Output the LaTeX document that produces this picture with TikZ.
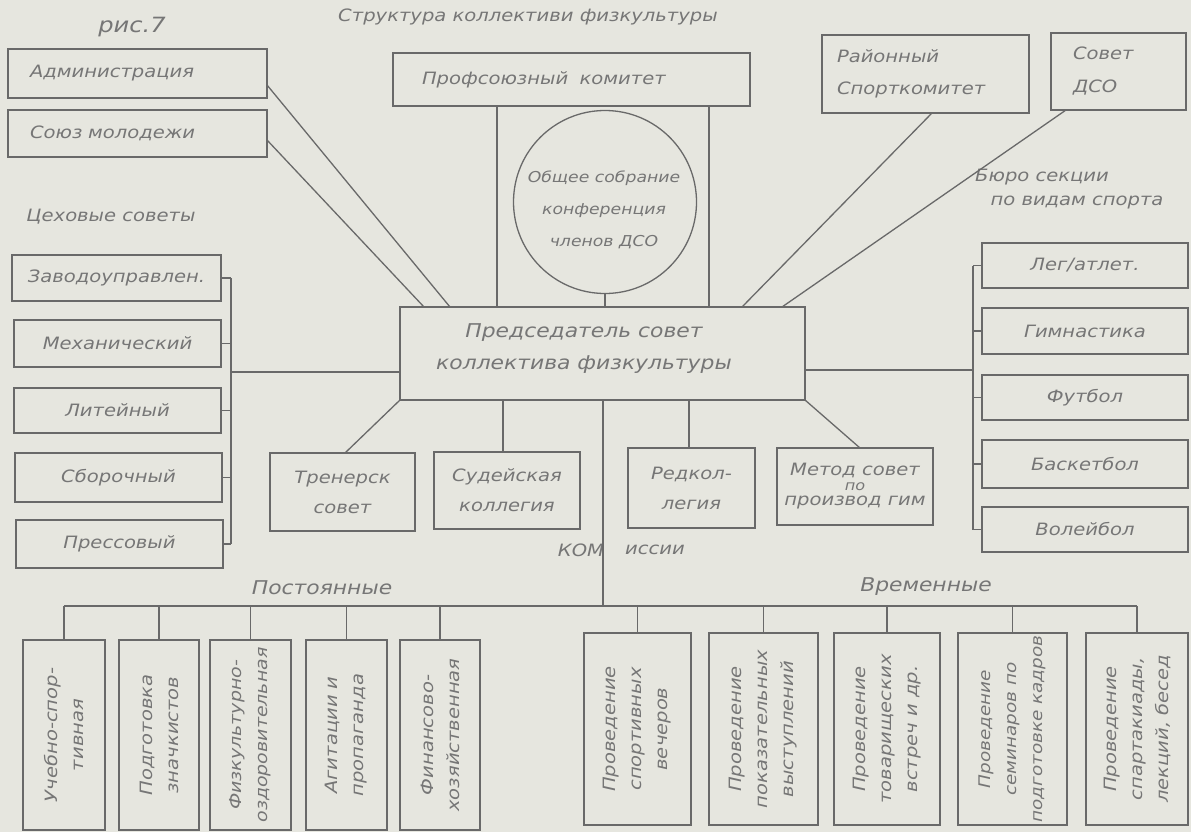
\documentclass[tikz,border=0pt]{standalone}
\usepackage{fontspec}
\setmainfont{DejaVu Sans}[FakeStretch=1.15]
\definecolor{bg}{RGB}{230,230,223}
\definecolor{ln}{RGB}{105,105,105}
\definecolor{tx}{RGB}{118,118,118}
\newcommand\lab{\fontsize{17}{22}\selectfont\itshape}
\newcommand\rlab{\fontsize{17}{26}\selectfont\itshape}
\begin{document}
\begin{tikzpicture}[x=1pt,y=-1pt,
  box/.style={draw=ln,line width=1.3pt,inner sep=0pt,outer sep=0pt,text=tx,font=\lab,align=center},
  vbox/.style={box,rotate=90,font=\rlab},
  wire/.style={draw=ln,line width=1.3pt},
  lbl/.style={text=tx,font=\lab,inner sep=0pt}]
\fill[bg] (0,0) rectangle (1191,832);
\useasboundingbox (0,0) rectangle (1191,832);

% titles
\node[lbl,font=\fontsize{21}{22}\selectfont\itshape] (ris) at (132,27) {рис.7};
\node[lbl,font=\fontsize{17}{20}\selectfont\itshape] (title) at (528,17) {Структура коллективи физкультуры};

% top boxes
\node[box,minimum width=259pt,minimum height=49pt,inner xsep=22pt,text width=215pt,align=left] (admin) at (137.5,73.5) {Администрация};
\node[box,minimum width=259pt,minimum height=47pt,inner xsep=22pt,text width=215pt,align=left] (union) at (137.5,133.5) {Союз молодежи};
\node[box,minimum width=357pt,minimum height=53pt,inner xsep=29pt,text width=299pt,align=left] (prof) at (571.5,79.5) {Профсоюзный\ \ комитет};
\node[box,minimum width=207pt,minimum height=78pt,inner xsep=15pt,text width=177pt,align=left,font=\fontsize{17}{32}\selectfont\itshape] (rayon) at (925.5,74) {Районный\\Спорткомитет};
\node[box,minimum width=135pt,minimum height=77pt,inner xsep=22pt,text width=91pt,align=left,font=\fontsize{17}{33}\selectfont\itshape] (sovet) at (1118.5,71.5) {Совет\\ДСО};

\node[box,circle,minimum size=183pt] (circ) at (605,202) {};
\node[lbl,align=center,font=\fontsize{15}{32}\selectfont\itshape] (circtext) at (604,210) {Общее собрание\\конференция\\членов ДСО};

\node[box,minimum width=405pt,minimum height=93pt] (central) at (602.5,353.5) {};
\node[lbl,align=center,font=\fontsize{19}{32}\selectfont\itshape] (centraltext) at (584,349) {Председатель совет\\коллектива физкультуры};

% side labels
\node[lbl] (tsex) at (111,217) {Цеховые советы};
\node[lbl] (buro1) at (1042,177) {Бюро секции};
\node[lbl] (buro2) at (1077,203) {по видам спорта};

% left column
\node[box,minimum width=209pt,minimum height=46pt] (zav) at (116.5,278) {Заводоуправлен.};
\node[box,minimum width=207pt,minimum height=47pt] (mex) at (117.5,343.5) {Механический};
\node[box,minimum width=207pt,minimum height=45pt] (lit) at (117.5,410.5) {Литейный};
\node[box,minimum width=207pt,minimum height=49pt] (sbor) at (118.5,477.5) {Сборочный};
\node[box,minimum width=207pt,minimum height=48pt] (press) at (119.5,544) {Прессовый};

% right column
\node[box,minimum width=206pt,minimum height=45pt] (leg) at (1085,265.5) {Лег/атлет.};
\node[box,minimum width=206pt,minimum height=46pt] (gim) at (1085,331) {Гимнастика};
\node[box,minimum width=206pt,minimum height=45pt] (fut) at (1085,397.5) {Футбол};
\node[box,minimum width=206pt,minimum height=48pt] (bask) at (1085,464) {Баскетбол};
\node[box,minimum width=206pt,minimum height=45pt] (vol) at (1085,529.5) {Волейбол};

% commissions
\node[box,minimum width=145pt,minimum height=78pt,font=\fontsize{17}{30}\selectfont\itshape] (trener) at (342.5,492) {Тренерск\\совет};
\node[box,minimum width=146pt,minimum height=77pt,font=\fontsize{17}{30}\selectfont\itshape] (sud) at (507,490.5) {Судейская\\коллегия};
\node[box,minimum width=127pt,minimum height=80pt,font=\fontsize{17}{30}\selectfont\itshape] (red) at (691.5,488) {Редкол-\\легия};
\node[box,minimum width=156pt,minimum height=77pt] (metod) at (855,486.5) {Метод совет\\[-7pt]{\fontsize{14}{14}\selectfont по}\\[-7pt]производ гим};

\node[lbl] (kom) at (581,550) {КОМ};
\node[lbl] (issii) at (655,550) {иссии};
\node[lbl,font=\fontsize{19}{22}\selectfont\itshape] (post) at (322,588) {Постоянные};
\node[lbl,font=\fontsize{19}{22}\selectfont\itshape] (vrem) at (926,587) {Временные};

% permanent
\node[vbox,minimum width=190pt,minimum height=82pt] (p1) at (64,735) {Учебно-спор-\\тивная};
\node[vbox,minimum width=190pt,minimum height=80pt] (p2) at (159,735) {Подготовка\\значкистов};
\node[vbox,minimum width=190pt,minimum height=81pt,font=\fontsize{16.5}{26}\selectfont\itshape] (p3) at (250.5,735) {Физкультурно-\\оздоровительная};
\node[vbox,minimum width=190pt,minimum height=81pt] (p4) at (346.5,735) {Агитации и\\пропаганда};
\node[vbox,minimum width=190pt,minimum height=80pt] (p5) at (440,735) {Финансово-\\хозяйственная};

% temporary
\node[vbox,minimum width=192pt,minimum height=107pt] (v1) at (637.5,729) {Проведение\\спортивных\\вечеров};
\node[vbox,minimum width=192pt,minimum height=109pt] (v2) at (763.5,729) {Проведение\\показательных\\выступлений};
\node[vbox,minimum width=192pt,minimum height=106pt] (v3) at (887,729) {Проведение\\товарищеских\\встреч и др.};
\node[vbox,minimum width=192pt,minimum height=109pt,font=\fontsize{16}{26}\selectfont\itshape] (v4) at (1012.5,729) {Проведение\\семинаров по\\подготовке кадров};
\node[vbox,minimum width=192pt,minimum height=102pt] (v5) at (1137,729) {Проведение\\спартакиады,\\лекций, бесед};

% top connectors
\draw[wire] ([yshift=-11.5pt]admin.east) -- ([xshift=50pt]central.north west);
\draw[wire] ([yshift=-6.5pt]union.east) -- ([xshift=24pt]central.north west);
\draw[wire] ([xshift=6.5pt]rayon.south) -- ([xshift=342pt]central.north west);
\draw[wire] ([xshift=-52.5pt]sovet.south) -- ([xshift=382pt]central.north west);
\coordinate (pf1) at ([xshift=104pt]prof.south west);
\coordinate (pf2) at ([xshift=316pt]prof.south west);
\draw[wire] (pf1) -- (pf1 |- central.north);
\draw[wire] (pf2) -- (pf2 |- central.north);
\draw[wire] (circ.south) -- (circ.south |- central.north);

% left bus
\coordinate (lbus) at (231,372);
\foreach \n in {zav,mex,lit,sbor,press} \draw[wire] (\n.east) -- (\n.east -| lbus);
\draw[wire] (zav.east -| lbus) -- (press.east -| lbus);
\draw[wire] (lbus) -- (lbus -| central.west);

% right bus
\coordinate (rbus) at (973,370);
\foreach \n in {leg,gim,fut,bask,vol} \draw[wire] (\n.west) -- (\n.west -| rbus);
\draw[wire] (leg.west -| rbus) -- (vol.west -| rbus);
\draw[wire] (central.east |- rbus) -- (rbus);

% bottom connectors
\draw[wire] (central.south west) -- ([xshift=2.5pt]trener.north);
\coordinate (c1) at ([xshift=103pt]central.south west);
\coordinate (c2) at ([xshift=203pt]central.south west);
\coordinate (c3) at ([xshift=289pt]central.south west);
\draw[wire] (c1) -- (c1 |- sud.north);
\draw[wire] (c3) -- (c3 |- red.north);
\draw[wire] (central.south east) -- ([xshift=5pt]metod.north);

\coordinate (pbus) at (64,606);
\coordinate (vbus) at (1137,606);
\draw[wire] (c2) -- (c2 |- pbus);
\draw[wire] (pbus) -- (vbus);
\foreach \n in {p1,p2,p3,p4,p5,v1,v2,v3,v4,v5} \draw[wire] (\n.east |- pbus) -- (\n.east);
\end{tikzpicture}
\end{document}
